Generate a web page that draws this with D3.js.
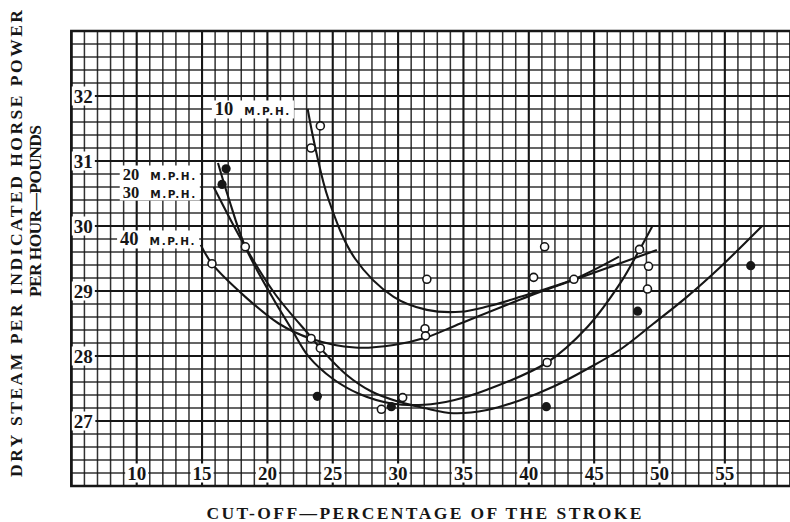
<!DOCTYPE html>
<html>
<head>
<meta charset="utf-8">
<script src="https://cdn.jsdelivr.net/npm/d3@7"></script>
<style>
  html, body { margin: 0; padding: 0; background: #fff; }
  svg { display: block; }
</style>
</head>
<body>
<svg id="chart" width="790" height="522"></svg>
<script>
// ---- data -------------------------------------------------------------
// cut-off (% of stroke) tick labels and steam-rate tick labels
const xTickLabels = [10, 15, 20, 25, 30, 35, 40, 45, 50, 55];
const yTickLabels = [27, 28, 29, 30, 31, 32];

// faired curves: [cut-off %, lb dry steam per i.h.p. per hour]
const speed10 = [[23.08, 31.8], [23.67, 31.2], [24.69, 30.4], [26.7, 29.5], [29.66, 28.91],
                 [32.2, 28.71], [34.76, 28.68], [36.8, 28.76], [39.35, 28.91], [43.43, 29.18], [46.9, 29.53]];
const speed20 = [[16.22, 30.97], [17.0, 30.45], [18.31, 29.68], [20.36, 28.91], [21.89, 28.4],
                 [23.16, 27.99], [25.0, 27.65], [27.0, 27.42], [29.5, 27.27], [32.0, 27.25],
                 [34.25, 27.32], [36.8, 27.48], [41.4, 27.9], [44.5, 28.45], [47.0, 29.12],
                 [48.46, 29.63], [49.43, 29.99]];
const speed30 = [[15.89, 30.6], [18.31, 29.68], [20.6, 28.95], [23.3, 28.3], [24.05, 28.12],
                 [26.0, 27.72], [28.0, 27.45], [30.0, 27.3], [32.0, 27.2], [34.25, 27.12],
                 [36.8, 27.17], [39.35, 27.32], [41.9, 27.53], [44.46, 27.8], [47.0, 28.1],
                 [49.55, 28.5], [52.1, 28.91], [54.66, 29.37], [57.85, 30.0]];
const speed40 = [[14.9, 29.71], [15.76, 29.42], [18.31, 28.91], [20.86, 28.5], [23.29, 28.27],
                 [26.7, 28.13], [29.66, 28.17], [32.2, 28.29], [34.76, 28.5], [40.0, 28.92],
                 [43.43, 29.17], [49.8, 29.63]];

// test observations
const openPoints = [[24.05, 31.54], [23.34, 31.2], [18.31, 29.68], [15.76, 29.42], [32.2, 29.18],
                    [32.06, 28.42], [32.1, 28.31], [23.34, 28.27], [24.05, 28.12], [28.72, 27.18],
                    [30.35, 27.36], [41.21, 29.68], [40.37, 29.21], [43.45, 29.18], [48.47, 29.64],
                    [49.16, 29.38], [49.08, 29.03], [41.4, 27.9]];
const solidPoints = [[16.84, 30.88], [16.53, 30.64], [23.82, 27.38], [29.48, 27.22],
                     [41.34, 27.22], [48.33, 28.69], [56.98, 29.39]];

const curveSeries = [speed10, speed20, speed30, speed40];
// speed captions; 20 and 30 share one block
const captionBlocks = [["10"], ["20", "30"], ["40"]];

// ---- layout -----------------------------------------------------------
const svg = d3.select("#chart");
const x = d3.scaleLinear().domain([5, 60]).range([71.35, 790.2]);
const y = d3.scaleLinear().domain([26, 33]).range([486, 31]);

const ink = "#161616";
const isWhole = d => Math.abs(d - Math.round(d)) < 1e-6;

// ---- grid paper ---------------------------------------------------------
const grid = svg.append("g");
const xLines = d3.range(5, 61);
const yLines = d3.range(0, 36).map(i => 26 + i * 0.2);

grid.selectAll("line.v").data(xLines).join("line")
  .attr("x1", d => x(d)).attr("x2", d => x(d))
  .attr("y1", y(26)).attr("y2", y(33))
  .attr("stroke", ink)
  .attr("stroke-width", d => d % 5 === 0 ? 2.1 : 1.5)
  .attr("opacity", d => d % 5 === 0 ? 1 : 0.88);

grid.selectAll("line.h").data(yLines).join("line")
  .attr("x1", x(5)).attr("x2", x(60))
  .attr("y1", d => y(d)).attr("y2", d => y(d))
  .attr("stroke", ink)
  .attr("stroke-width", d => isWhole(d) ? 2.1 : 1.5)
  .attr("opacity", d => isWhole(d) ? 1 : 0.88);

// frame
svg.append("path")
  .attr("d", `M${x(60)},${y(26)}H${x(5)}V${y(33)}H${x(60)}`)
  .attr("fill", "none").attr("stroke", ink).attr("stroke-width", 2.6);

// ---- curves -------------------------------------------------------------
const line = d3.line()
  .x(d => x(d[0])).y(d => y(d[1]))
  .curve(d3.curveCatmullRom.alpha(0.5));

svg.append("g").selectAll("path").data(curveSeries).join("path")
  .attr("d", line)
  .attr("fill", "none").attr("stroke", ink).attr("stroke-width", 2.1);

// ---- observations -------------------------------------------------------
svg.append("g").selectAll("circle").data(openPoints).join("circle")
  .attr("cx", d => x(d[0])).attr("cy", d => y(d[1])).attr("r", 4)
  .attr("fill", "#fff").attr("stroke", ink).attr("stroke-width", 1.6);

svg.append("g").selectAll("circle").data(solidPoints).join("circle")
  .attr("cx", d => x(d[0])).attr("cy", d => y(d[1])).attr("r", 4.6)
  .attr("fill", ink);

// ---- labels -------------------------------------------------------------
// white patches go in their own layer below all label text
const patchLayer = svg.append("g");
const textLayer = svg.append("g");

function patch(t, padX, padY) {
  const b = t.node().getBBox();
  patchLayer.append("rect")
    .attr("x", b.x - padX).attr("y", b.y - padY)
    .attr("width", b.width + 2 * padX).attr("height", b.height + 2 * padY)
    .attr("fill", "#fff");
}

const serif = "'Liberation Serif', 'Times New Roman', serif";

// y tick labels
yTickLabels.forEach(v => {
  const t = textLayer.append("text")
    .attr("x", x(5) + 12).attr("y", y(v) + 6.5)
    .attr("text-anchor", "middle")
    .attr("font-family", serif).attr("font-weight", "bold").attr("font-size", 19)
    .attr("fill", ink).text(v);
  patch(t, 2, -1);
});

// x tick labels
xTickLabels.forEach(v => {
  const t = textLayer.append("text")
    .attr("x", x(v)).attr("y", y(26.2) + 6.5)
    .attr("text-anchor", "middle")
    .attr("font-family", serif).attr("font-weight", "bold").attr("font-size", 19)
    .attr("fill", ink).text(v);
  patch(t, 2, -1);
});

// speed captions, set just left of the curves' upper ends
const blockAnchors = [[21.8, 31.785], [14.6, 30.8], [14.55, 29.785]];
const lineStep = 18;
captionBlocks.forEach((names, i) => {
  const [ax, ay] = blockAnchors[i];
  const numSize = names.length > 1 ? 16.5 : 18.5;
  const t = textLayer.append("text")
    .attr("text-anchor", "end")
    .attr("fill", ink);
  names.forEach((name, k) => {
    t.append("tspan")
      .attr("x", x(ax)).attr("y", y(ay) + 5.5 + k * lineStep)
      .attr("font-family", serif).attr("font-weight", "bold").attr("font-size", numSize)
      .text(name);
    t.append("tspan")
      .attr("dx", 11)
      .attr("font-family", "'DejaVu Sans', sans-serif").attr("font-weight", "bold")
      .attr("font-size", 10.5).attr("letter-spacing", 1.6)
      .text("M.P.H.");
  });
  patch(t, 3, -1);
});

// axis titles
textLayer.append("text")
  .attr("x", 424).attr("y", 519)
  .attr("text-anchor", "middle")
  .attr("font-family", serif).attr("font-weight", "bold").attr("font-size", 17.5)
  .attr("textLength", 435).attr("lengthAdjust", "spacing")
  .attr("fill", ink)
  .text("CUT-OFF—PERCENTAGE OF THE STROKE");

textLayer.append("text")
  .attr("transform", "translate(22,243.5) rotate(-90)")
  .attr("text-anchor", "middle")
  .attr("font-family", serif).attr("font-weight", "bold").attr("font-size", 17.5)
  .attr("textLength", 467).attr("lengthAdjust", "spacing")
  .attr("fill", ink)
  .text("DRY STEAM PER INDICATED HORSE POWER");

textLayer.append("text")
  .attr("transform", "translate(41,211) rotate(-90)")
  .attr("text-anchor", "middle")
  .attr("font-family", serif).attr("font-weight", "bold").attr("font-size", 17.5)
  .attr("textLength", 172).attr("lengthAdjust", "spacing")
  .attr("fill", ink)
  .text("PER HOUR—POUNDS");
</script>
</body>
</html>
